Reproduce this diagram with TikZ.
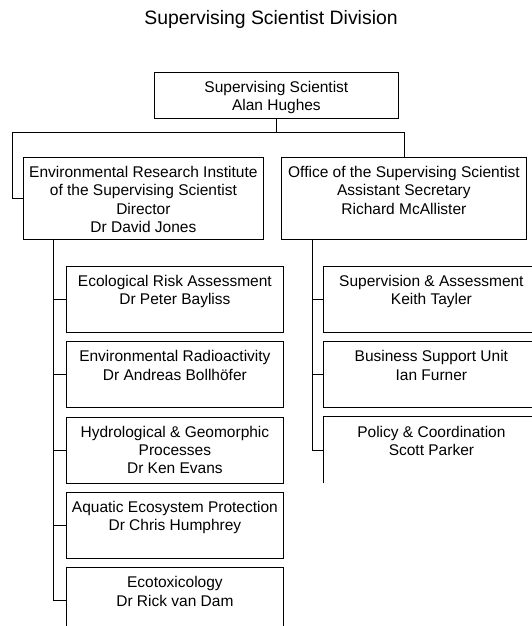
\documentclass[tikz,border=0pt]{standalone}
\usepackage{fontspec}
\setmainfont{Liberation Sans}
\usetikzlibrary{positioning}
\tikzset{
    org line/.style={line width=.8pt, black},
    unit box/.style={org line, draw, inner xsep=0pt, inner ysep=7.4pt, anchor=north west},
    open box/.style={unit box, draw=none},
    title/.style={anchor=base, font=\fontsize{19.4}{22}\selectfont},
}
\tikzstyle{every node}=[font=\fontsize{15.5}{18.3}\selectfont]
\newcommand{\boxtext}[3]{\parbox[t][#2][t]{#1}{\centering\strut #3}}

\begin{document}
\begin{tikzpicture}[x=1pt,y=-1pt]
        \useasboundingbox (0,0) rectangle (532,626);
        \clip (0,0) rectangle (532,626);
        \node[title] (head) at (271,25) {Supervising Scientist Division};

        \node[unit box] (ss) at (154,72) {\boxtext{244pt}{31.2pt}{Supervising Scientist\\Alan Hughes}};
        \node[unit box] (eri) at (23,157) {\boxtext{240pt}{67.2pt}{Environmental Research Institute\\of the Supervising Scientist\\Director\\Dr David Jones}};
        \node[unit box] (oss) at (281,157) {\boxtext{245pt}{67.2pt}{Office of the Supervising Scientist\\Assistant Secretary\\Richard McAllister}};

        \begin{scope}[node distance=8.5pt]
            \node[unit box] (era) at (66,266) {\boxtext{217pt}{51.2pt}{Ecological Risk Assessment\\Dr Peter Bayliss}};
            \node[unit box, below=of era] (rad) {\boxtext{217pt}{51.2pt}{Environmental Radioactivity\\Dr Andreas Bollh\"ofer}};
            \node[unit box, below=of rad] (hyd) {\boxtext{217pt}{51.2pt}{Hydrological \& Geomorphic\\Processes\\Dr Ken Evans}};
            \node[unit box, below=of hyd] (aep) {\boxtext{217pt}{51.2pt}{Aquatic Ecosystem Protection\\Dr Chris Humphrey}};
            \node[unit box, below=of aep] (tox) {\boxtext{217pt}{51.2pt}{Ecotoxicology\\Dr Rick van Dam}};

            \node[unit box] (sup) at (323,266) {\boxtext{216pt}{51.2pt}{Supervision \& Assessment\\Keith Tayler}};
            \node[unit box, below=of sup] (bsu) {\boxtext{216pt}{51.2pt}{Business Support Unit\\Ian Furner}};
            \node[open box, below=of bsu] (pol) {\boxtext{216pt}{51.2pt}{Policy \& Coordination\\Scott Parker}};
        \end{scope}
        \draw[org line] (pol.south west) -- (pol.north west) -- (pol.north east);

        \draw[org line] (ss.south) -- ++(0,14) coordinate (ssjoin);
        \draw[org line] (eri.west) -- ++(-11,0) |- (ssjoin) -| (oss.north);

        \draw[org line] (eri.south west) ++(30,0) coordinate (eritrunk) -- (eritrunk |- tox.west);
        \foreach \n in {era,rad,hyd,aep,tox}
            \draw[org line] (eritrunk |- \n.west) -- (\n.west);

        \draw[org line] (oss.south west) ++(31,0) coordinate (osstrunk) -- (osstrunk |- pol.west);
        \foreach \n in {sup,bsu,pol}
            \draw[org line] (osstrunk |- \n.west) -- (\n.west);
    \end{tikzpicture}
\end{document}
